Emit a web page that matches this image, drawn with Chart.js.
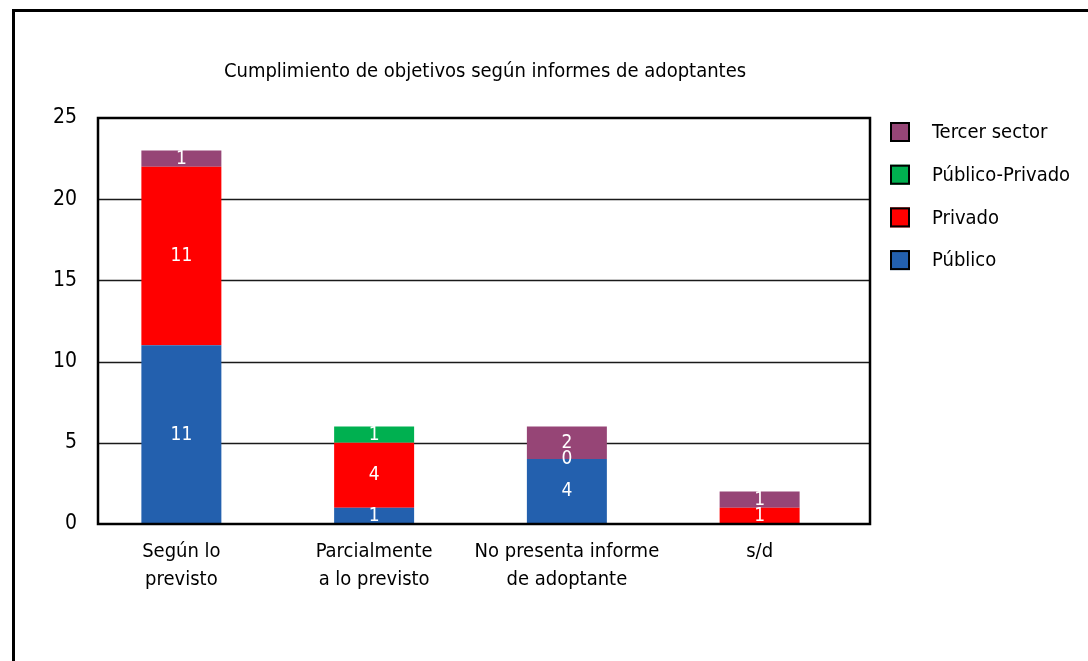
<!DOCTYPE html>
<html>
<head>
<meta charset="utf-8">
<script src="https://cdn.jsdelivr.net/npm/chart.js@4.4.1/dist/chart.umd.min.js"></script>
<style>
  html, body { margin: 0; padding: 0; background: #fff; }
  canvas { display: block; }
</style>
</head>
<body>
<canvas id="chart" width="1088" height="661"></canvas>
<script>
// datos
const categorias = [
  ['Según lo', 'previsto'],
  ['Parcialmente', 'a lo previsto'],
  ['No presenta informe', 'de adoptante'],
  ['s/d']
];
const publico = [11, 1, 4, null];
const privado = [11, 4, 0, 1];
const publicoPrivado = [null, 1, null, null];
const tercerSector = [1, null, 2, 1];
const yTicks = [0, 5, 10, 15, 20, 25];

const FONT = '"Liberation Sans Narrow", "DejaVu Sans Condensed", sans-serif';
const colores = {
  publico: '#2360ae',
  privado: '#ff0000',
  pubpriv: '#00b050',
  tercer: '#964576'
};

// marco, rejilla, título, leyenda y etiquetas
const decor = {
  id: 'decor',
  beforeDatasetsDraw(chart) {
    const c = chart.ctx;
    const y = chart.scales.y;
    c.save();
    c.strokeStyle = '#1a1a1a';
    c.lineWidth = 1.5;
    yTicks.forEach(v => {
      if (v === 0 || v === 25) return;
      const py = Math.round(y.getPixelForValue(v)) + 0.5;
      c.beginPath();
      c.moveTo(98, py);
      c.lineTo(870, py);
      c.stroke();
    });
    c.restore();
  },
  afterDatasetsDraw(chart) {
    const c = chart.ctx;
    const y = chart.scales.y;
    c.save();

    // etiquetas de valores
    c.fillStyle = '#fff';
    c.font = `19px ${FONT}`;
    c.textAlign = 'center';
    c.textBaseline = 'middle';
    chart.data.datasets.forEach((ds, i) => {
      const meta = chart.getDatasetMeta(i);
      meta.data.forEach((bar, j) => {
        const v = ds.data[j];
        if (v === null || v === undefined) return;
        c.fillText(String(v), bar.x, (bar.y + bar.base) / 2);
      });
    });

    // marco del área de trazado
    const top = y.getPixelForValue(25);
    const bottom = y.getPixelForValue(0);
    c.strokeStyle = '#000';
    c.lineWidth = 2.5;
    c.strokeRect(98, top, 870 - 98, bottom - top);

    // borde exterior
    c.lineWidth = 3;
    c.strokeRect(13.5, 10.5, 1100, 700);

    // título
    c.fillStyle = '#000';
    c.font = `20px ${FONT}`;
    c.fillText('Cumplimiento de objetivos según informes de adoptantes', 485, 72);

    // leyenda (orden inverso)
    const items = chart.data.datasets.slice().reverse();
    c.textAlign = 'left';
    c.font = `20px ${FONT}`;
    items.forEach((ds, k) => {
      const cy = 132 + k * 42.7;
      c.fillStyle = ds.backgroundColor;
      c.fillRect(890, cy - 10, 20, 20);
      c.lineWidth = 2;
      c.strokeStyle = '#000';
      c.strokeRect(891, cy - 9, 18, 18);
      c.fillStyle = '#000';
      c.fillText(ds.label, 932, cy + 1);
    });
    c.restore();
  }
};

new Chart(document.getElementById('chart'), {
  type: 'bar',
  data: {
    labels: categorias,
    datasets: [
      { label: 'Público', data: publico, backgroundColor: colores.publico },
      { label: 'Privado', data: privado, backgroundColor: colores.privado },
      { label: 'Público-Privado', data: publicoPrivado, backgroundColor: colores.pubpriv },
      { label: 'Tercer sector', data: tercerSector, backgroundColor: colores.tercer }
    ]
  },
  options: {
    responsive: false,
    animation: false,
    devicePixelRatio: 1,
    layout: { padding: { top: 118, right: 232, bottom: 0, left: 0 } },
    datasets: {
      bar: { categoryPercentage: 1, barPercentage: 0.415, borderWidth: 0 }
    },
    plugins: {
      legend: { display: false },
      tooltip: { enabled: false }
    },
    scales: {
      x: {
        stacked: true,
        grid: { display: false, drawTicks: false },
        border: { display: false },
        ticks: {
          color: '#000',
          padding: 14,
          maxRotation: 0,
          font: { family: FONT, size: 20, lineHeight: 1.4 }
        },
        afterFit(scale) { scale.height = 137; }
      },
      y: {
        stacked: true,
        min: 0,
        max: 25,
        grid: { display: false, drawTicks: false },
        border: { display: false },
        afterBuildTicks(scale) { scale.ticks = yTicks.map(v => ({ value: v })); },
        ticks: {
          color: '#000',
          padding: 8,
          font: { family: FONT, size: 21 }
        },
        afterFit(scale) { scale.width = 85; }
      }
    }
  },
  plugins: [decor]
});
</script>
</body>
</html>
